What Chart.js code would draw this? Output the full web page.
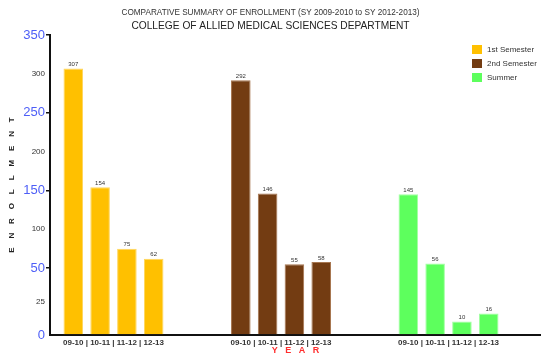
<!DOCTYPE html>
<html lang="en">
<head>
<meta charset="UTF-8">
<title>Comparative Summary of Enrollment</title>
<script src="https://cdn.jsdelivr.net/npm/chart.js"></script>
<style>
  html, body { margin: 0; padding: 0; background: #fff; }
  .chart-box { position: relative; width: 541px; height: 356px; }
</style>
</head>
<body>
<div class="chart-box"><canvas id="enrollmentChart"></canvas></div>

<script>
const semesters = ['1st Semester', '2nd Semester', 'Summer'];
const schoolYears = ['09-10', '10-11', '11-12', '12-13'];
const firstSemester = [307, 154, 75, 62];
const secondSemester = [292, 146, 55, 58];
const summerTerm = [145, 56, 10, 16];
const yTickValues = [0, 25, 50, 100, 150, 200, 250, 300, 350];
const majorTicks = [0, 50, 150, 250, 350];

const enrollment = [firstSemester, secondSemester, summerTerm];
const semesterColors = ['#ffc000', '#733c12', '#5dff5d'];
const semesterEdges = ['#ffd65c', '#a77650', '#a2ffa2'];
const FONT = '"Liberation Sans", Arial, sans-serif';

// enrollment axis is split: 0-50 gets a stretched lower band, 50-350 is linear above it
const SPLIT_VALUE = 50;
const LOWER_SHARE = 0.223;

class SplitLinearScale extends Chart.LinearScale {
    valueToDecimal(v) {
        if (v <= SPLIT_VALUE) {
            return (v - this.min) / (SPLIT_VALUE - this.min) * LOWER_SHARE;
        }
        return LOWER_SHARE + (v - SPLIT_VALUE) / (this.max - SPLIT_VALUE) * (1 - LOWER_SHARE);
    }
    getPixelForValue(value) {
        return value === null ? NaN : this.getPixelForDecimal(this.valueToDecimal(value));
    }
    getValueForPixel(pixel) {
        const d = this.getDecimalForPixel(pixel);
        if (d <= LOWER_SHARE) {
            return this.min + d / LOWER_SHARE * (SPLIT_VALUE - this.min);
        }
        return SPLIT_VALUE + (d - LOWER_SHARE) / (1 - LOWER_SHARE) * (this.max - SPLIT_VALUE);
    }
}
SplitLinearScale.id = 'splitLinear';
SplitLinearScale.defaults = Chart.LinearScale.defaults;
Chart.register(SplitLinearScale);

// one dataset per school year, grouped under each semester
const datasets = schoolYears.map((year, j) => ({
    label: year,
    data: enrollment.map((values, i) => ({ x: i, y: values[j] })),
    backgroundColor: semesterColors,
    borderColor: semesterEdges,
    borderWidth: 1,
    categoryPercentage: 0.64,
    barPercentage: 0.73
}));

const barValueLabels = {
    id: 'barValueLabels',
    afterDatasetsDraw(chart) {
        const ctx = chart.ctx;
        ctx.save();
        ctx.font = '6px ' + FONT;
        ctx.fillStyle = '#333';
        ctx.textAlign = 'center';
        ctx.textBaseline = 'bottom';
        chart.data.datasets.forEach((ds, d) => {
            chart.getDatasetMeta(d).data.forEach((bar, i) => {
                ctx.fillText(ds.data[i].y, bar.x, bar.y - 1);
            });
        });
        ctx.restore();
    }
};

const semesterLegend = {
    id: 'semesterLegend',
    afterDraw(chart) {
        const ctx = chart.ctx;
        const x = chart.chartArea.right - 69;
        ctx.save();
        ctx.font = '8px ' + FONT;
        ctx.textBaseline = 'middle';
        semesters.forEach((name, k) => {
            const y = 45 + k * 14;
            ctx.fillStyle = semesterColors[k];
            ctx.fillRect(x, y, 10, 9);
            ctx.fillStyle = '#333';
            ctx.fillText(name, x + 15, y + 5);
        });
        ctx.restore();
    }
};

const isMajor = c => c.tick && majorTicks.includes(c.tick.value);

new Chart(document.getElementById('enrollmentChart'), {
    type: 'bar',
    data: { datasets: datasets },
    plugins: [barValueLabels, semesterLegend],
    options: {
        responsive: true,
        maintainAspectRatio: false,
        animation: false,
        layout: { padding: 0 },
        plugins: {
            legend: { display: false },
            tooltip: { enabled: false },
            title: {
                display: true,
                text: 'COMPARATIVE SUMMARY OF ENROLLMENT (SY 2009-2010 to SY 2012-2013)',
                color: '#333',
                font: { family: FONT, size: 8.2, weight: 'normal' },
                padding: { top: 8, bottom: 2 }
            },
            subtitle: {
                display: true,
                text: 'COLLEGE OF ALLIED MEDICAL SCIENCES DEPARTMENT',
                color: '#222',
                font: { family: FONT, size: 10.2 },
                padding: { top: 0, bottom: 3 }
            }
        },
        scales: {
            x: {
                type: 'linear',
                min: -0.379,
                max: 2.552,
                offset: false,
                afterFit: s => { s.height = 21; },
                grid: { drawOnChartArea: false, drawTicks: false },
                border: { color: '#111', width: 2 },
                ticks: {
                    stepSize: 1,
                    includeBounds: false,
                    autoSkip: false,
                    maxRotation: 0,
                    padding: 3,
                    color: '#333',
                    font: { family: FONT, size: 8, weight: 'bold' },
                    callback: v => Number.isInteger(v) ? schoolYears.join(' | ') : ''
                },
                title: {
                    display: true,
                    text: 'Y   E   A   R',
                    color: '#ff2d2d',
                    font: { family: FONT, size: 9, weight: 'bold' },
                    padding: 0
                }
            },
            y: {
                type: 'splitLinear',
                min: 0,
                max: 350,
                afterFit: s => { s.width = 50; },
                afterBuildTicks: s => { s.ticks = yTickValues.map(v => ({ value: v })); },
                grid: {
                    drawOnChartArea: false,
                    drawTicks: true,
                    tickLength: 4,
                    lineWidth: 1.5,
                    color: c => isMajor(c) && c.tick.value > 0 ? '#111' : 'rgba(0,0,0,0)'
                },
                border: { color: '#111', width: 2 },
                ticks: {
                    autoSkip: false,
                    padding: 1,
                    color: c => isMajor(c) ? '#4d5ef7' : '#333',
                    font: c => isMajor(c) ? { family: FONT, size: 13 } : { family: FONT, size: 8 }
                },
                title: {
                    display: true,
                    text: 'ENROLLMENT'.split('').join('    '),
                    color: '#222',
                    font: { family: FONT, size: 8, weight: 'bold' },
                    padding: { top: 7, bottom: 0 }
                }
            }
        }
    }
});
</script>
</body>
</html>
